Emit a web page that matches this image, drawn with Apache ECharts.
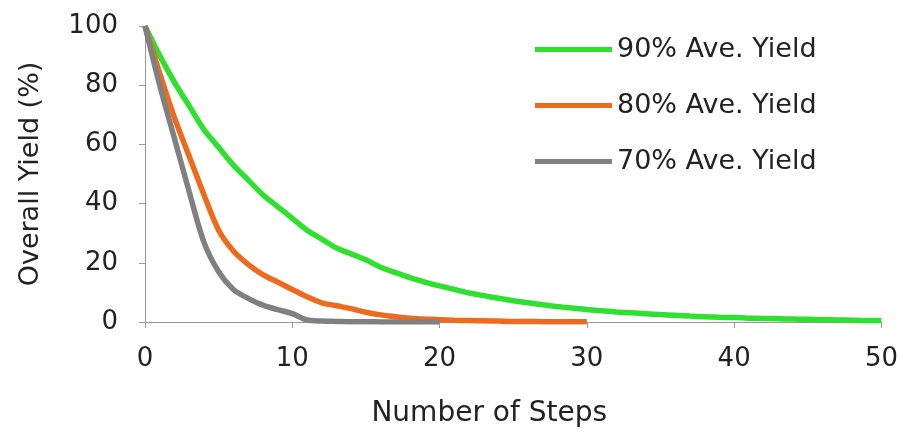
<!DOCTYPE html>
<html>
<head>
<meta charset="utf-8">
<script src="https://cdn.jsdelivr.net/npm/echarts@6/dist/echarts.min.js"></script>
<style>html,body{margin:0;padding:0;background:#fff}#c{width:901px;height:436px}</style>
</head>
<body>
<div id="c"></div>
<script>
const seriesNames = ['90% Ave. Yield', '80% Ave. Yield', '70% Ave. Yield'];
const yield90 = [100, 90, 81, 73, 65, 59, 53, 48, 43, 39, 35, 31, 28, 25, 23, 21, 18.5, 16.7, 15, 13.5,
  12.2, 11, 9.8, 8.9, 8, 7.2, 6.5, 5.8, 5.2, 4.7, 4.2, 3.8, 3.4, 3.1, 2.8, 2.5, 2.3, 2, 1.8, 1.6,
  1.5, 1.3, 1.2, 1.1, 1, 0.9, 0.8, 0.7, 0.6, 0.5, 0.5];
const yield80 = [100, 84, 69, 56, 43, 31, 24, 19.5, 16, 13.5, 11, 8.5, 6.5, 5.5, 4.5, 3.3, 2.4, 1.8, 1.3, 1,
  0.8, 0.6, 0.5, 0.4, 0.3, 0.2, 0.2, 0.1, 0.1, 0.1, 0.1];
const yield70 = [100, 80, 62, 44, 27, 17, 11, 8, 5.7, 4.2, 2.8, 0.7, 0.3, 0.2, 0.1, 0.1, 0, 0, 0, 0, 0];
const xTicks = [0, 10, 20, 30, 40, 50];
const yTicks = [0, 20, 40, 60, 80, 100];
const colors = ['#2fe02f', '#ee6a1c', '#808080'];

const toPairs = arr => arr.map((v, i) => [i, v]);
const font = 'DejaVu Sans, sans-serif';
const chart = echarts.init(document.getElementById('c'));
chart.setOption({
  animation: false,
  color: colors,
  grid: { left: 145, right: 19, top: 26, bottom: 114, containLabel: false },
  legend: {
    orient: 'vertical', left: 530, top: 31, icon: 'rect', itemWidth: 77, itemHeight: 5,
    itemGap: 29, textStyle: { fontFamily: font, fontSize: 27, color: '#222' },
    data: seriesNames
  },
  xAxis: {
    type: 'value', min: xTicks[0], max: xTicks[xTicks.length - 1], interval: 10,
    name: 'Number of Steps', nameLocation: 'middle', nameGap: 78,
    nameTextStyle: { fontFamily: font, fontSize: 28, color: '#222', padding: [0, 48, 0, 0] },
    axisLine: { lineStyle: { color: '#999', width: 1 } },
    axisTick: { show: true, length: 6, lineStyle: { color: '#999' } },
    axisLabel: { fontFamily: font, fontSize: 26, color: '#222', margin: 24 },
    splitLine: { show: false }
  },
  yAxis: {
    type: 'value', min: yTicks[0], max: yTicks[yTicks.length - 1], interval: 20,
    name: 'Overall Yield (%)', nameLocation: 'middle', nameGap: 101, nameRotate: 90,
    nameTextStyle: { fontFamily: font, fontSize: 27, color: '#222' },
    axisLine: { show: true, lineStyle: { color: '#999', width: 1 } },
    axisTick: { show: true, length: 6, lineStyle: { color: '#999' } },
    axisLabel: { fontFamily: font, fontSize: 26, color: '#222', margin: 27 },
    splitLine: { show: false }
  },
  series: [yield90, yield80, yield70].map((d, i) => ({
    name: seriesNames[i], type: 'line', data: toPairs(d), smooth: 0.3,
    showSymbol: false, symbol: 'none', lineStyle: { width: 5.5, color: colors[i] }, z: 2 + i
  }))
});
</script>
</body>
</html>
